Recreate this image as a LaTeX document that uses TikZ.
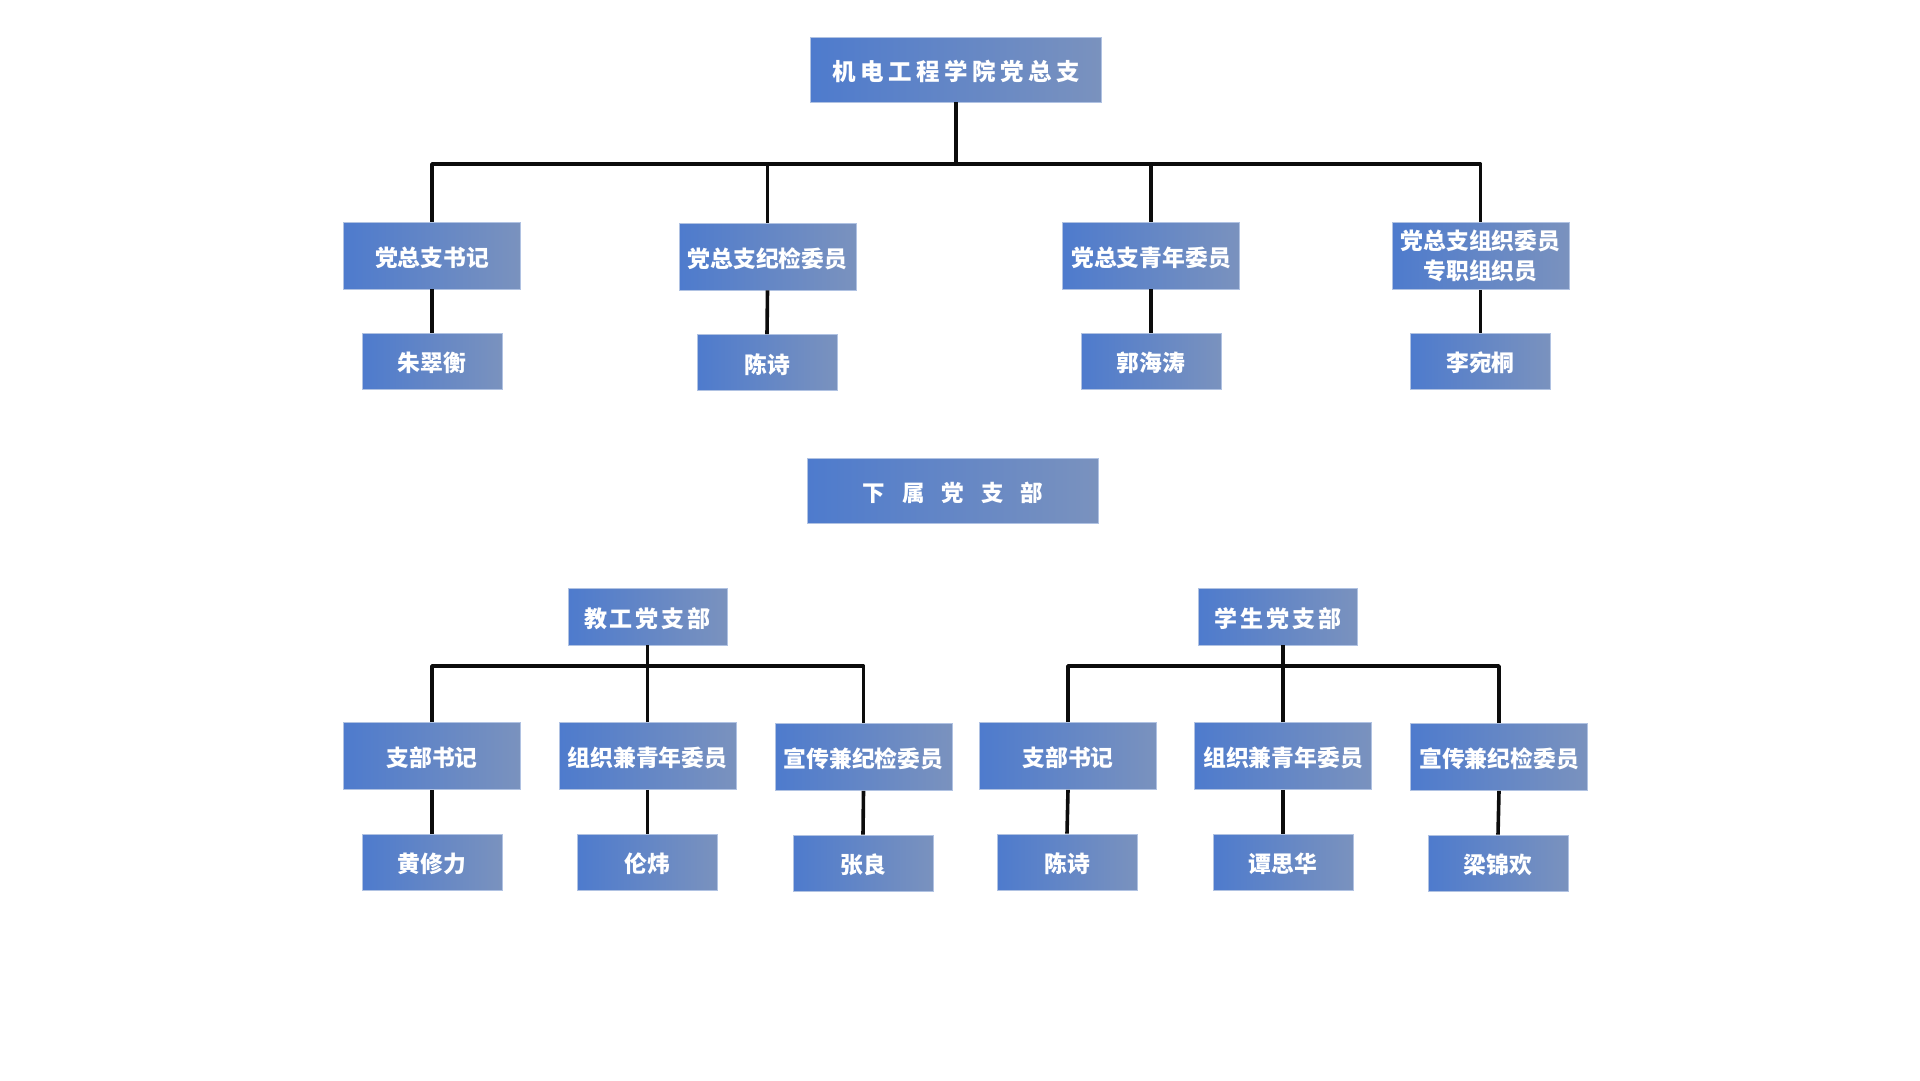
\documentclass[tikz,border=0pt]{standalone}
\usepackage{fontspec}
\setmainfont{Noto Sans CJK SC}
\definecolor{boxL}{RGB}{78,123,205}
\definecolor{boxR}{RGB}{122,146,190}
\definecolor{boxEdge}{RGB}{176,194,226}
\definecolor{lineC}{RGB}{12,12,12}
\tikzset{
  box/.style={rectangle, left color=boxL, right color=boxR, draw=boxEdge, line width=0.8pt,
    inner sep=0pt, text=white, font=\bfseries\fontsize{22.8}{30}\selectfont, align=center},
  onel/.style={text height=23pt, text depth=2pt},
  rolebox/.style={box, minimum width=177pt, minimum height=67pt},
  namebox/.style={box, onel, minimum width=140pt, minimum height=56pt},
  bigbox/.style={box, onel, minimum width=291pt, minimum height=65pt},
  branchbox/.style={box, onel, minimum width=159pt, minimum height=57pt, font=\bfseries\fontsize{23}{28}\selectfont},
  conn/.style={draw=lineC, line width=3.6pt, line join=round, line cap=butt},
}
\begin{document}
\begin{tikzpicture}[x=1pt,y=-1pt]
\useasboundingbox[fill=white] (0,0) rectangle (1920,1080);

% top level
\node[bigbox, font=\bfseries\fontsize{23.5}{28}\selectfont] (top) at (956,69.5)
  {机\kern4.5pt 电\kern4.5pt 工\kern4.5pt 程\kern4.5pt 学\kern4.5pt 院\kern4.5pt 党\kern4.5pt 总\kern4.5pt 支};
\coordinate (barA) at (956,164);

\node[rolebox, onel] (a1) at (432,255.5) {党总支书记};
\node[rolebox, onel] (a2) at (767.5,256.5) {党总支纪检委员};
\node[rolebox, onel] (a3) at (1151,255.5) {党总支青年委员};
\node[rolebox] (a4) at (1480.5,256) {党总支组织委员\\专职组织员};

\node[namebox] (n1) at (432,361) {朱翠衡};
\node[namebox] (n2) at (767,362.5) {陈诗};
\node[namebox] (n3) at (1151,361) {郭海涛};
\node[namebox] (n4) at (1480.5,361) {李宛桐};

\draw[conn] (top.south) -- (barA);
\draw[conn] (a1.north) -- (a1.north |- barA) -- (a4.north |- barA) -- (a4.north);
\draw[conn] (a2.north) -- (a2.north |- barA);
\draw[conn] (a3.north) -- (a3.north |- barA);
\draw[conn] (a1.south) -- (n1.north);
\draw[conn] (a2.south) -- (n2.north);
\draw[conn] (a3.south) -- (n3.north);
\draw[conn] (a4.south) -- (n4.north);

% sub branches
\node[bigbox, font=\bfseries\fontsize{22.5}{28}\selectfont] (sub) at (953,490.5)
  {下\kern17pt 属\kern17pt 党\kern17pt 支\kern17pt 部};

\node[branchbox] (jg) at (647.5,616.5) {教\kern3pt 工\kern3pt 党\kern3pt 支\kern3pt 部};
\node[branchbox] (xs) at (1278,616.5) {学\kern3pt 生\kern3pt 党\kern3pt 支\kern3pt 部};
\coordinate (barB) at (647.5,666);
\coordinate (barC) at (1283,666);

\node[rolebox, onel] (j1) at (432,756) {支部书记};
\node[rolebox, onel] (j2) at (647.5,756) {组织兼青年委员};
\node[rolebox, onel] (j3) at (863.5,757) {宣传兼纪检委员};
\node[rolebox, onel] (s1) at (1068,756) {支部书记};
\node[rolebox, onel] (s2) at (1283,756) {组织兼青年委员};
\node[rolebox, onel] (s3) at (1499,757) {宣传兼纪检委员};

\node[namebox] (m1) at (432,862) {黄修力};
\node[namebox] (m2) at (647.5,862) {伦炜};
\node[namebox] (m3) at (863,863) {张良};
\node[namebox] (m4) at (1067,862) {陈诗};
\node[namebox] (m5) at (1283,862) {谭思华};
\node[namebox] (m6) at (1498,863) {梁锦欢};

\draw[conn] (jg.south) -- (jg.south |- barB);
\draw[conn] (j1.north) -- (j1.north |- barB) -- (j3.north |- barB) -- (j3.north);
\draw[conn] (j2.north) -- (j2.north |- barB);
\draw[conn] (xs.south -| s2.north) -- (s2.north |- barC);
\draw[conn] (s1.north) -- (s1.north |- barC) -- (s3.north |- barC) -- (s3.north);
\draw[conn] (s2.north) -- (s2.north |- barC);

\draw[conn] (j1.south) -- (m1.north);
\draw[conn] (j2.south) -- (m2.north);
\draw[conn] (j3.south) -- (m3.north);
\draw[conn] (s1.south) -- (m4.north);
\draw[conn] (s2.south) -- (m5.north);
\draw[conn] (s3.south) -- (m6.north);
\end{tikzpicture}
\end{document}
